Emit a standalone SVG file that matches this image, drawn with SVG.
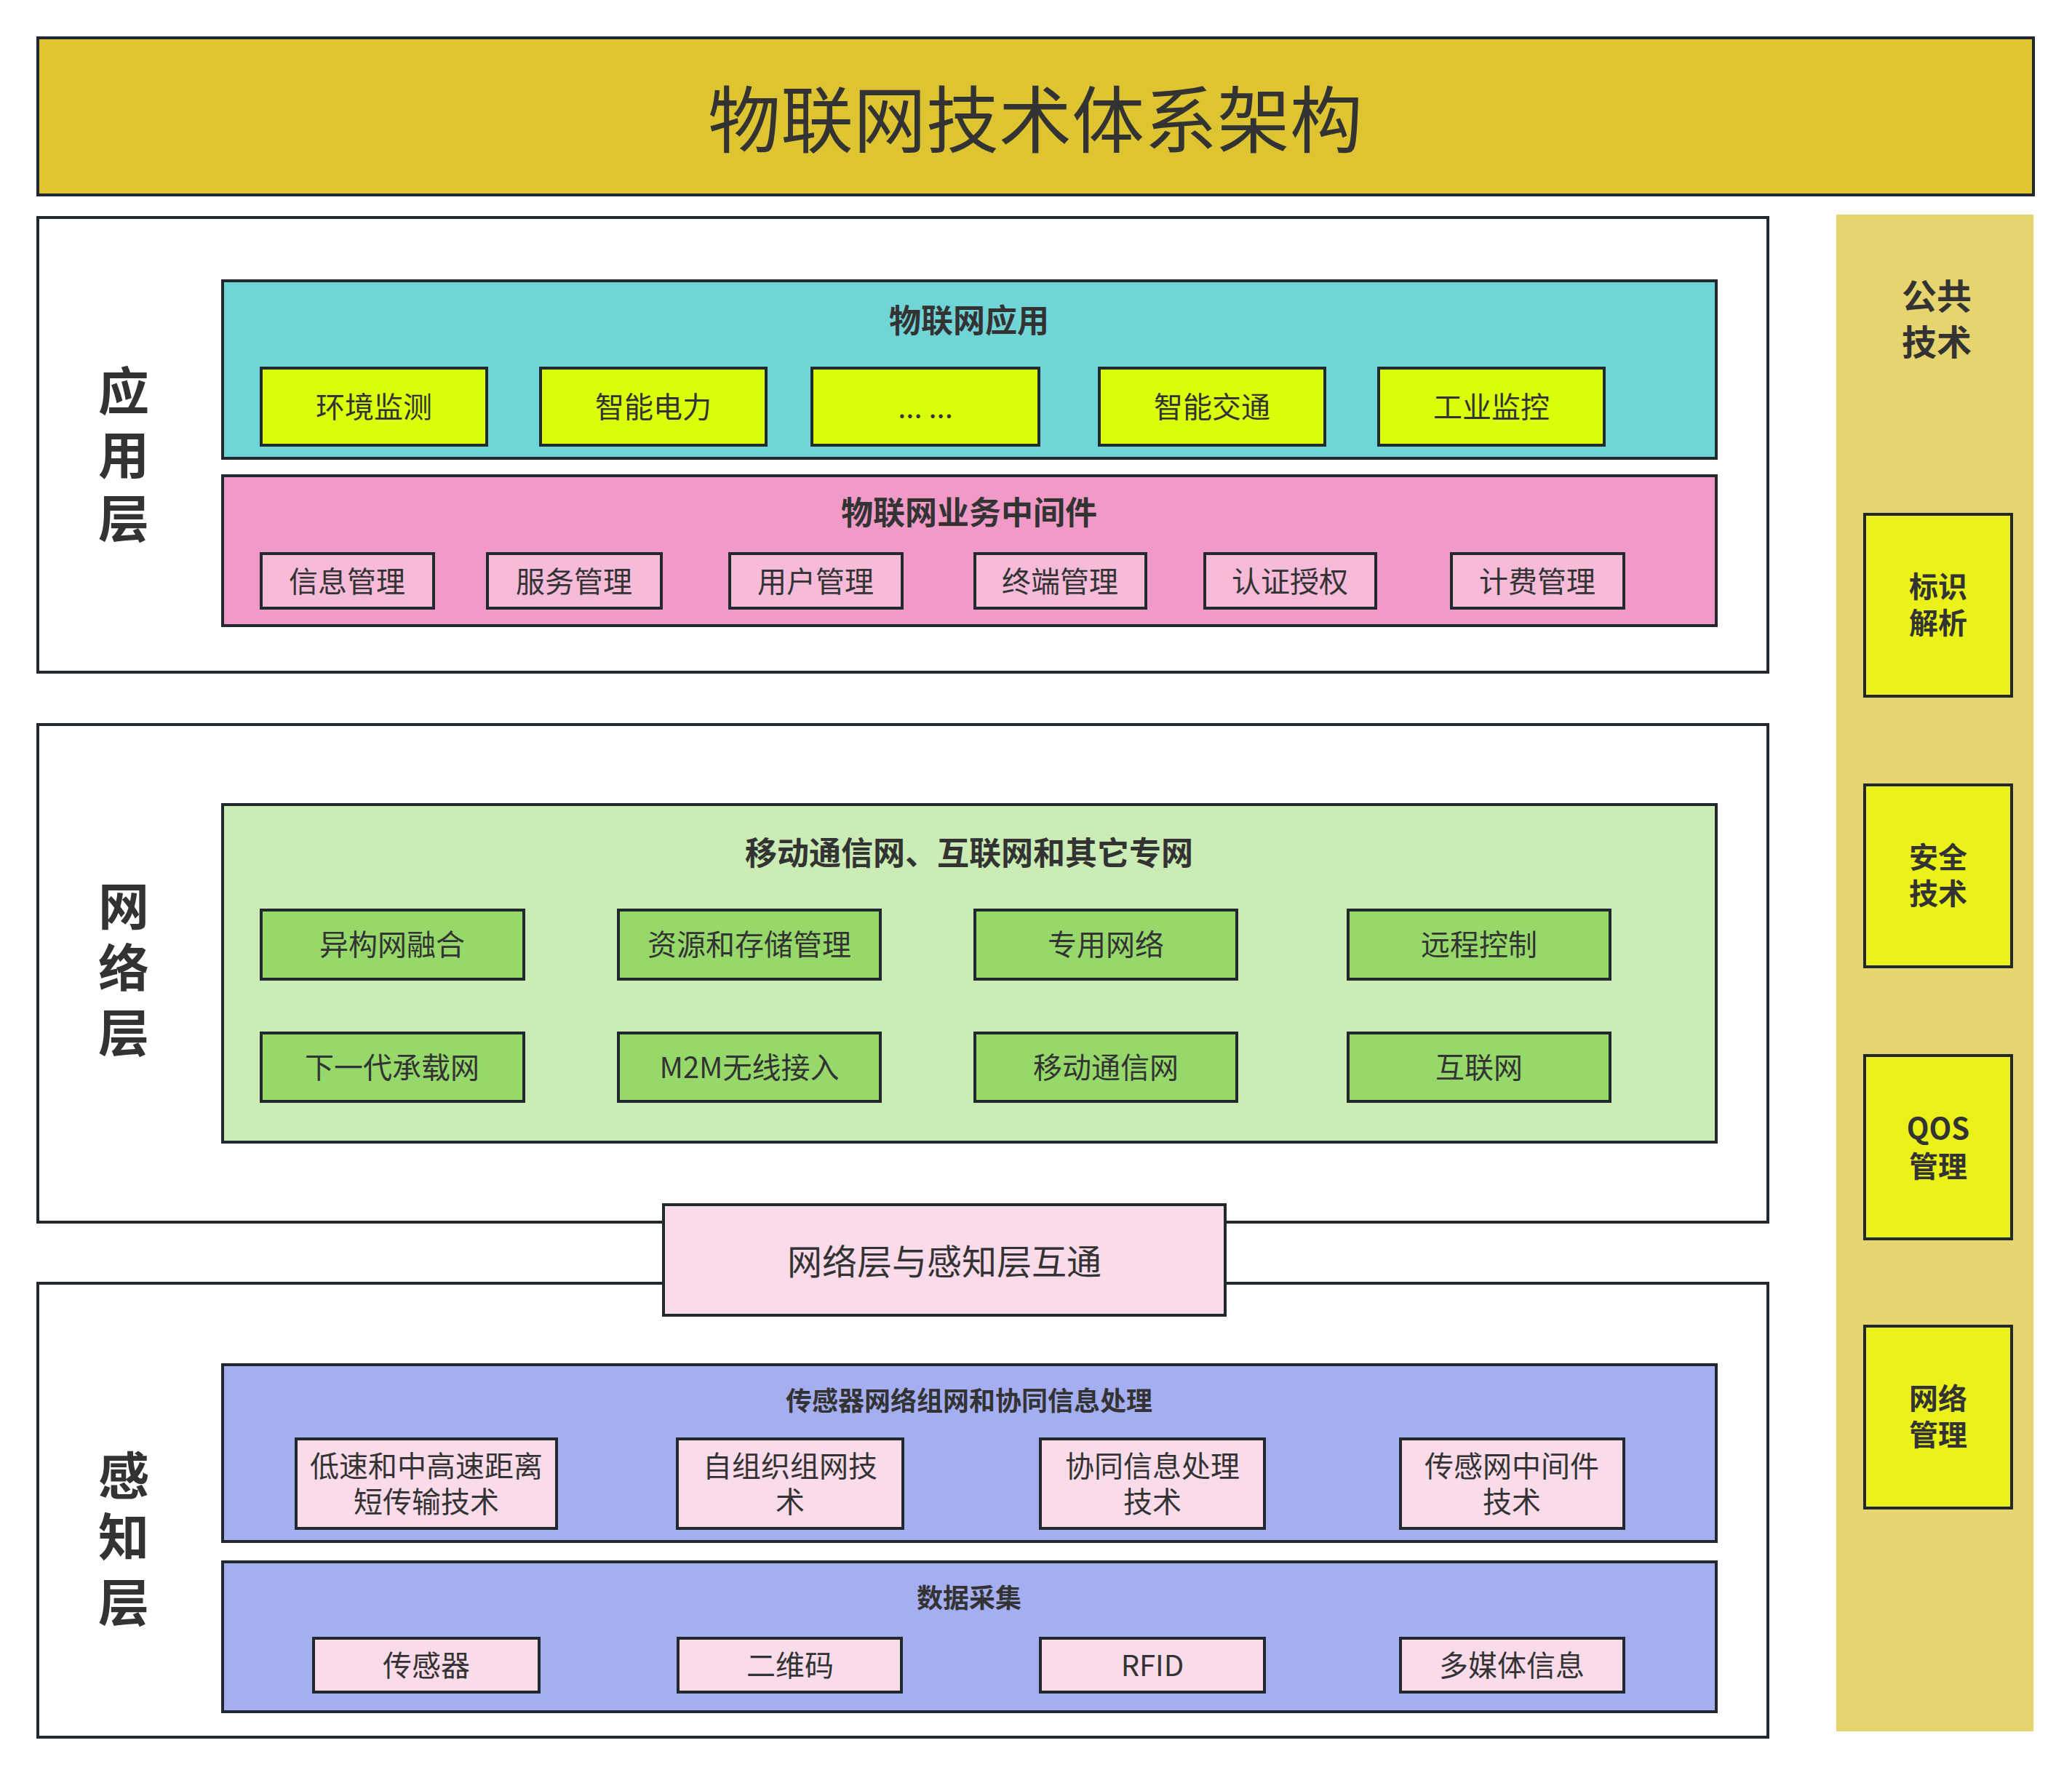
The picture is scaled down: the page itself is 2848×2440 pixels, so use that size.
<svg xmlns="http://www.w3.org/2000/svg" width="2848" height="2440" viewBox="0 0 2848 2440">
<style>
text{font-family:"Noto Sans CJK SC","Noto Sans",sans-serif;fill:#333333;text-anchor:middle}
.b{stroke:#21282E;stroke-width:4}
.t{font-size:40px}
.h{font-size:44px;font-weight:bold}
.h2{font-size:36px;font-weight:bold}
.lay{font-size:70px;font-weight:bold}
.side{font-size:40px;font-weight:bold}
.app{fill:#D9FF0B}
.mid{fill:#F5BBD9}
.net{fill:#96D96A}
.sen{fill:#F9DBEA}
.tech{fill:#EAF21A}
</style>
<rect width="2848" height="2440" fill="#FFFFFF"/>
<g id="title">
<rect class="b" x="52" y="52" width="2743" height="216" fill="#DFC431"/>
<text x="1423" y="202" style="font-size:100px">物联网技术体系架构</text>
</g>
<g id="common-tech">
<rect x="2524" y="295" width="271" height="2085" fill="#E6D56E"/>
<text x="2662" y="425" style="font-size:48px;font-weight:bold"><tspan x="2662" y="425">公共</tspan><tspan x="2662" y="488">技术</tspan></text>
</g>
<g id="app-layer">
<rect class="b" x="52" y="299" width="2378" height="625" fill="#FFFFFF"/>
<text class="lay"><tspan x="170" y="564">应</tspan><tspan x="170" y="652">用</tspan><tspan x="170" y="739">层</tspan></text>
</g>
<g id="iot-app">
<rect class="b" x="306" y="386" width="2053" height="244" fill="#70D5D6"/>
<text class="h" x="1332" y="457">物联网应用</text>
</g>
<g id="app-1"><rect class="b app" x="359" y="506" width="310" height="106"/><text class="t" x="514" y="574">环境监测</text></g>
<g id="app-2"><rect class="b app" x="743" y="506" width="310" height="106"/><text class="t" x="898" y="574">智能电力</text></g>
<g id="app-3"><rect class="b app" x="1116" y="506" width="312" height="106"/><text class="t" x="1272" y="574">... ...</text></g>
<g id="app-4"><rect class="b app" x="1511" y="506" width="310" height="106"/><text class="t" x="1666" y="574">智能交通</text></g>
<g id="app-5"><rect class="b app" x="1895" y="506" width="310" height="106"/><text class="t" x="2050" y="574">工业监控</text></g>
<g id="middleware">
<rect class="b" x="306" y="654" width="2053" height="206" fill="#F19AC8"/>
<text class="h" x="1332" y="721">物联网业务中间件</text>
</g>
<g id="mw-1"><rect class="b mid" x="359" y="761" width="237" height="75"/><text class="t" x="477" y="814">信息管理</text></g>
<g id="mw-2"><rect class="b mid" x="670" y="761" width="239" height="75"/><text class="t" x="789" y="814">服务管理</text></g>
<g id="mw-3"><rect class="b mid" x="1003" y="761" width="237" height="75"/><text class="t" x="1121" y="814">用户管理</text></g>
<g id="mw-4"><rect class="b mid" x="1340" y="761" width="235" height="75"/><text class="t" x="1457" y="814">终端管理</text></g>
<g id="mw-5"><rect class="b mid" x="1656" y="761" width="235" height="75"/><text class="t" x="1773" y="814">认证授权</text></g>
<g id="mw-6"><rect class="b mid" x="1995" y="761" width="237" height="75"/><text class="t" x="2113" y="814">计费管理</text></g>
<g id="net-layer">
<rect class="b" x="52" y="996" width="2378" height="684" fill="#FFFFFF"/>
<text class="lay"><tspan x="170" y="1272">网</tspan><tspan x="170" y="1357">络</tspan><tspan x="170" y="1446">层</tspan></text>
</g>
<g id="networks">
<rect class="b" x="306" y="1106" width="2053" height="464" fill="#CBECB5"/>
<text class="h" x="1332" y="1189">移动通信网、互联网和其它专网</text>
</g>
<g id="net-1"><rect class="b net" x="359" y="1251" width="361" height="95"/><text class="t" x="539" y="1313">异构网融合</text></g>
<g id="net-2"><rect class="b net" x="850" y="1251" width="360" height="95"/><text class="t" x="1030" y="1313">资源和存储管理</text></g>
<g id="net-3"><rect class="b net" x="1340" y="1251" width="360" height="95"/><text class="t" x="1520" y="1313">专用网络</text></g>
<g id="net-4"><rect class="b net" x="1853" y="1251" width="360" height="95"/><text class="t" x="2033" y="1313">远程控制</text></g>
<g id="net-5"><rect class="b net" x="359" y="1420" width="361" height="94"/><text class="t" x="539" y="1482">下一代承载网</text></g>
<g id="net-6"><rect class="b net" x="850" y="1420" width="360" height="94"/><text class="t" x="1030" y="1482">M2M无线接入</text></g>
<g id="net-7"><rect class="b net" x="1340" y="1420" width="360" height="94"/><text class="t" x="1520" y="1482">移动通信网</text></g>
<g id="net-8"><rect class="b net" x="1853" y="1420" width="360" height="94"/><text class="t" x="2033" y="1482">互联网</text></g>
<g id="sense-layer">
<rect class="b" x="52" y="1764" width="2378" height="624" fill="#FFFFFF"/>
<text class="lay"><tspan x="170" y="2055">感</tspan><tspan x="170" y="2139">知</tspan><tspan x="170" y="2229">层</tspan></text>
</g>
<g id="interconnect">
<rect class="b" x="912" y="1656" width="772" height="152" fill="#F9DBEA"/>
<text x="1298" y="1752" style="font-size:48px">网络层与感知层互通</text>
</g>
<g id="sensor-net">
<rect class="b" x="306" y="1876" width="2053" height="243" fill="#A4AEF1"/>
<text class="h2" x="1332" y="1939">传感器网络组网和协同信息处理</text>
</g>
<g id="sn-1"><rect class="b sen" x="407" y="1978" width="358" height="123"/><text class="t"><tspan x="586" y="2030">低速和中高速距离</tspan><tspan x="586" y="2079">短传输技术</tspan></text></g>
<g id="sn-2"><rect class="b sen" x="931" y="1978" width="310" height="123"/><text class="t"><tspan x="1086" y="2030">自组织组网技</tspan><tspan x="1086" y="2079">术</tspan></text></g>
<g id="sn-3"><rect class="b sen" x="1430" y="1978" width="308" height="123"/><text class="t"><tspan x="1584" y="2030">协同信息处理</tspan><tspan x="1584" y="2079">技术</tspan></text></g>
<g id="sn-4"><rect class="b sen" x="1925" y="1978" width="307" height="123"/><text class="t"><tspan x="2078" y="2030">传感网中间件</tspan><tspan x="2078" y="2079">技术</tspan></text></g>
<g id="data-collect">
<rect class="b" x="306" y="2147" width="2053" height="206" fill="#A4AEF1"/>
<text class="h2" x="1332" y="2210">数据采集</text>
</g>
<g id="dc-1"><rect class="b sen" x="431" y="2252" width="310" height="74"/><text class="t" x="586" y="2304">传感器</text></g>
<g id="dc-2"><rect class="b sen" x="932" y="2252" width="307" height="74"/><text class="t" x="1086" y="2304">二维码</text></g>
<g id="dc-3"><rect class="b sen" x="1430" y="2252" width="308" height="74"/><text class="t" x="1584" y="2304">RFID</text></g>
<g id="dc-4"><rect class="b sen" x="1925" y="2252" width="307" height="74"/><text class="t" x="2078" y="2304">多媒体信息</text></g>
<g id="tech-1"><rect class="b tech" x="2563" y="707" width="202" height="250"/><text class="side"><tspan x="2664" y="821">标识</tspan><tspan x="2664" y="871">解析</tspan></text></g>
<g id="tech-2"><rect class="b tech" x="2563" y="1079" width="202" height="250"/><text class="side"><tspan x="2664" y="1193">安全</tspan><tspan x="2664" y="1243">技术</tspan></text></g>
<g id="tech-3"><rect class="b tech" x="2563" y="1451" width="202" height="252"/><text class="side"><tspan x="2664" y="1566">QOS</tspan><tspan x="2664" y="1618">管理</tspan></text></g>
<g id="tech-4"><rect class="b tech" x="2563" y="1823" width="202" height="250"/><text class="side"><tspan x="2664" y="1937">网络</tspan><tspan x="2664" y="1987">管理</tspan></text></g>
<g id="connectors"></g>
</svg>
